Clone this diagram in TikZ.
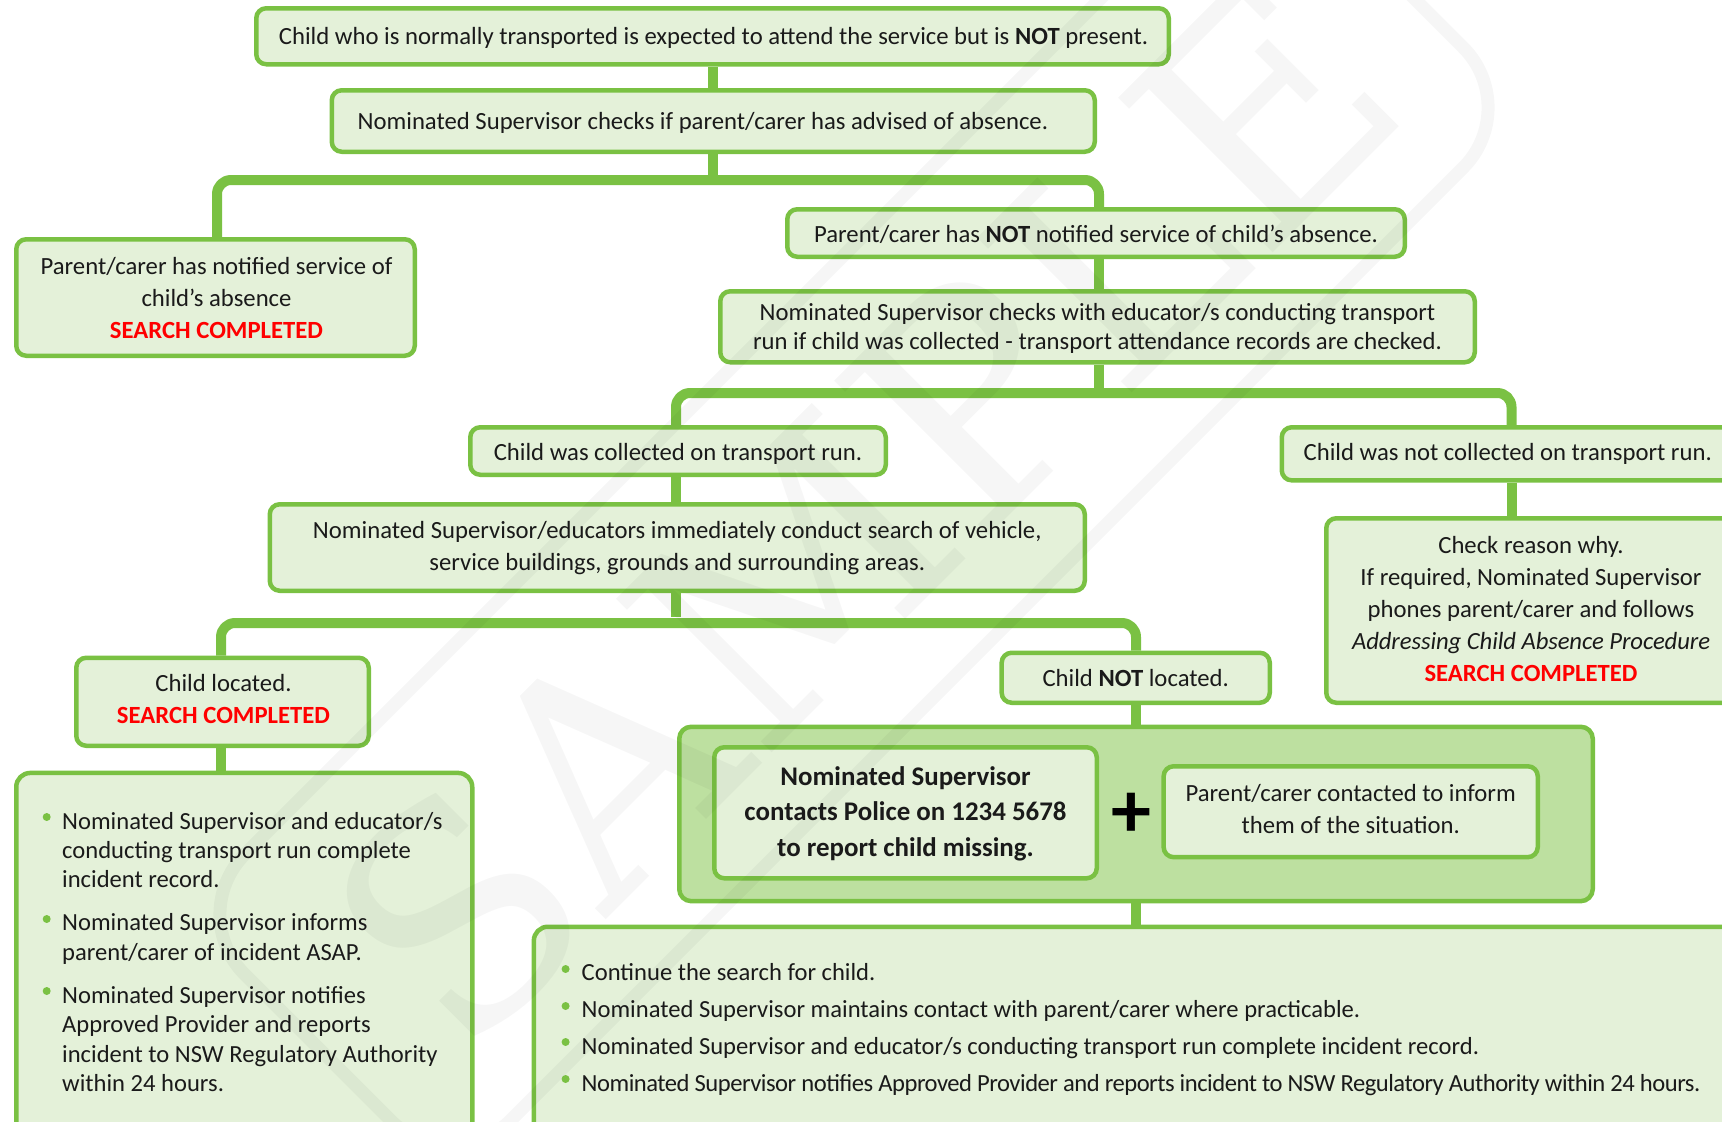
\documentclass[tikz,border=0pt]{standalone}
\usepackage{fontspec}
\setmainfont{Carlito}
\newfontfamily\wmfont{DejaVu Serif}
\definecolor{gb}{RGB}{122,193,67}
\definecolor{gf}{RGB}{228,241,217}
\definecolor{gd}{RGB}{189,224,160}
\definecolor{tx}{RGB}{26,26,26}
\tikzset{
  wire/.style={draw=gb,line width=10pt,line cap=butt,line join=round,rounded corners=14pt},
  box/.style={draw=gb,line width=4.5pt,fill=gf,rounded corners=10pt,inner sep=0pt,text=tx,font=\fontsize{24.7}{32}\selectfont},
  tight/.style={box,font=\fontsize{24.65}{29.5}\selectfont},
  strong/.style={box,font=\fontsize{26.9}{35.5}\selectfont\bfseries},
  bigbox/.style={box,rounded corners=14pt},
  darkbox/.style={box,fill=gd,rounded corners=12pt},
  item/.style={inner sep=0pt,anchor=west,align=left,text=tx,font=\fontsize{24.6}{29.3}\selectfont},
  bul/.style={circle,fill=gb,inner sep=0pt,minimum size=8pt},
  wmk/.style={opacity=0.037,inner sep=0pt},
}
\newcommand{\boxat}[5][box]{\node[#1,minimum width={(#3-#2-4.5)*1pt},minimum height={(#5-#4-4.5)*1pt}] at ({(#2+#3)/2},{(#4+#5)/2})}
\newcommand{\T}[2]{\raisebox{\dimexpr(#1pt)\relax}[0pt][0pt]{\begin{tabular}{@{}c@{}}#2\end{tabular}}}
\newcommand{\red}[1]{\textcolor{red}{\textbf{#1}}}
\begin{document}
\begin{tikzpicture}[x=1pt,y=-1pt]
\useasboundingbox (0,0) rectangle (1722,1122);
\clip (0,0) rectangle (1722,1122);
\coordinate (s1) at (712.5,0);
\coordinate (l1) at (217,180);
\coordinate (r1) at (1099,180);
\coordinate (l2) at (676,393);
\coordinate (r2) at (1511.5,393);
\coordinate (l3) at (221,623);
\coordinate (r3) at (1136,623);
\coordinate (stub3) at (676,616.5);
% boxes
\boxat{254}{1171}{6}{66.5} (A) {\kern2pt\T{-8}{Child who is normally transported is expected to attend the service but is \textbf{NOT} present.}};
\boxat{329.5}{1097}{88}{154} (B) {\kern-20.8pt\T{-8}{Nominated Supervisor checks if parent/carer has advised of absence.}};
\boxat{14}{417}{237}{358} (C) {\kern2pt\T{-8.5}{Parent/carer has notified service of\\child’s absence\\\red{SEARCH COMPLETED}}};
\boxat{785}{1407}{207}{259} (D) {\T{-9}{Parent/carer has \textbf{NOT} notified service of child’s absence.}};
\boxat[tight]{718}{1477}{289}{364.5} (E) {\T{-8.5}{Nominated Supervisor checks with educator/s conducting transport\\run if child was collected - transport attendance records are checked.}};
\boxat{468}{888}{425}{477} (F) {\T{-9}{Child was collected on transport run.}};
\boxat{1279.5}{1736}{425}{482.6} (G) {\T{-7}{Child was not collected on transport run.}};
\boxat{267.5}{1087}{502}{593} (H) {\T{-7}{Nominated Supervisor/educators immediately conduct search of vehicle,\\service buildings, grounds and surrounding areas.}};
\boxat{74}{371}{655.5}{748} (I) {\kern2pt\T{-6}{Child located.\\\red{SEARCH COMPLETED}}};
\boxat{999.4}{1272}{650.5}{705} (J) {\T{-9}{Child \textbf{NOT} located.}};
\boxat{1324}{1738}{516}{705} (K) {\T{-6.5}{Check reason why.\\If required, Nominated Supervisor\\phones parent/carer and follows\\\textit{\addfontfeature{LetterSpace=-0.4}Addressing Child Absence Procedure}\\\red{SEARCH COMPLETED}}};
\boxat[bigbox]{14}{474.5}{770.7}{1150} (L) {};
\boxat[darkbox]{677}{1595}{724.5}{903.4} (M) {};
\boxat[bigbox]{531.6}{1760}{924.5}{1150} (N) {};
\boxat[strong]{712}{1099}{745}{880.5} (O) {\T{-7}{Nominated Supervisor\\contacts Police on 1234 5678\\to report child missing.}};
\boxat{1161.4}{1540}{764}{859.4} (P) {\T{-6}{Parent/carer contacted to inform\\them of the situation.}};
\node[inner sep=0pt,text=black,font=\fontsize{80}{80}\selectfont\bfseries] (plus) at (1131.6,815) {+};
% connectors
\draw[wire] (s1 |- A.south) -- (s1 |- B.north);
\draw[wire] (s1 |- B.south) -- (s1 |- l1);
\draw[wire] (l1 |- C.north) -- (l1) -- (r1) -- (r1 |- D.north);
\draw[wire] (r1 |- D.south) -- (r1 |- E.north);
\draw[wire] (r1 |- E.south) -- (r1 |- l2);
\draw[wire] (l2 |- F.north) -- (l2) -- (r2) -- (r2 |- G.north);
\draw[wire] (l2 |- F.south) -- (l2 |- H.north);
\draw[wire] (r2 |- G.south) -- (r2 |- K.north);
\draw[wire] (l2 |- H.south) -- (stub3);
\draw[wire] (l3 |- I.north) -- (l3) -- (r3) -- (r3 |- J.north);
\draw[wire] (l3 |- I.south) -- (l3 |- L.north);
\draw[wire] (r3 |- J.south) -- (r3 |- M.north);
\draw[wire] (r3 |- M.south) -- (r3 |- N.north);
% left list
\node[bul] (b1) at (46.7,817) {};
\node[bul] (b2) at (46.7,919) {};
\node[bul] (b3) at (46.7,991) {};
\node[item] (t1) at (62,850) {Nominated Supervisor and educator/s\\conducting transport run complete\\incident record.};
\node[item] (t2) at (62,939) {Nominated Supervisor informs\\parent/carer of incident ASAP.};
\node[item] (t3) at (62,1039) {Nominated Supervisor notifies\\Approved Provider and reports\\incident to NSW Regulatory Authority\\within 24 hours.};
% bottom list
\node[bul] (b4) at (565.6,969) {};
\node[bul] (b5) at (565.6,1006) {};
\node[bul] (b6) at (565.6,1042) {};
\node[bul] (b7) at (565.6,1079) {};
\node[item] (t4) at (581.5,972.5) {Continue the search for child.};
\node[item] (t5) at (581.5,1011) {Nominated Supervisor maintains contact with parent/carer where practicable.};
\node[item] (t6) at (581.5,1048) {Nominated Supervisor and educator/s conducting transport run complete incident record.};
\node[item] (t7) at (581.5,1085) {\addfontfeature{LetterSpace=-2.0}Nominated Supervisor notifies Approved Provider and reports incident to NSW Regulatory Authority within 24 hours.};
% watermark
\node[wmk,draw=black,line width=13pt,rounded corners=85pt,rotate=45,minimum width=1517pt,minimum height=376pt] (frame) at (854,511) {};
\node[wmk,rotate=45,font=\fontsize{300}{300}\selectfont\wmfont] (wm) at (862,509) {SAMPLE};
\end{tikzpicture}
\end{document}
